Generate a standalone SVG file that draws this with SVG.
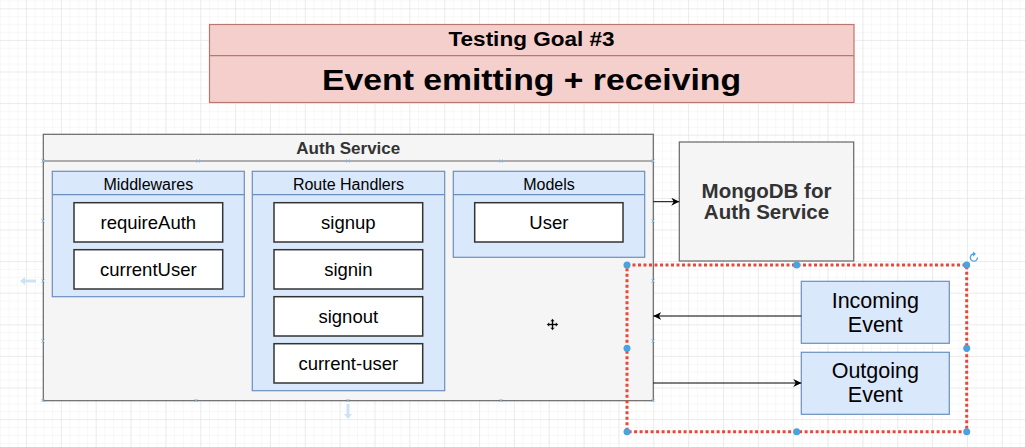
<svg xmlns="http://www.w3.org/2000/svg" width="1025" height="447" viewBox="0 0 1025 447">
<defs>
<pattern id="minor" x="26" y="8.3" width="8.7125" height="7.9" patternUnits="userSpaceOnUse">
<path d="M0 0V7.9M0 0H8.7125" fill="none" stroke="#f1f1f1" stroke-width="1"/>
</pattern>
<pattern id="major" x="26" y="8.3" width="34.85" height="31.6" patternUnits="userSpaceOnUse">
<path d="M0 0V31.6M0 0H34.85" fill="none" stroke="#e0e0e0" stroke-width="1"/>
</pattern>
<marker id="arr" viewBox="0 0 10 10" refX="10" refY="5" markerWidth="8" markerHeight="8" markerUnits="userSpaceOnUse" orient="auto">
<path d="M0 0L10 5L0 10L3 5Z" fill="#000"/>
</marker>
<style>
.t{font-family:"Liberation Sans",Arial,sans-serif;text-anchor:middle;fill:#000}
.b{font-weight:bold}
.grey{fill:#f5f5f5;stroke:#666;stroke-width:1.2}
.blue{fill:#dae8fc;stroke:#6c8ebf;stroke-width:1.2}
.white{fill:#fff;stroke:#333;stroke-width:1.5}
.hdr{font-size:16px}
.item{font-size:18.5px}
.conn{fill:none;stroke:#000;stroke-width:1}
.h{fill:#4aa3df}
.xm{stroke:#7fb8e0;stroke-width:1}
</style>
</defs>
<rect width="1025" height="447" fill="#fff"/>
<rect width="1025" height="447" fill="url(#minor)"/>
<rect width="1025" height="447" fill="url(#major)"/>

<g id="title">
<rect x="209.5" y="24.5" width="644.5" height="78" fill="#f5cfcb" stroke="#b9776f" stroke-width="1.2"/>
<line x1="209.5" y1="55.7" x2="854" y2="55.7" stroke="#b9776f" stroke-width="1.2"/>
<text class="t b" x="531.5" y="46" font-size="20" textLength="166" lengthAdjust="spacingAndGlyphs">Testing Goal #3</text>
<text class="t b" x="531.5" y="90" font-size="29.5" textLength="419" lengthAdjust="spacingAndGlyphs">Event emitting + receiving</text>
</g>

<g id="auth-service">
<rect class="grey" x="43.3" y="134.3" width="610" height="266.4"/>
<line x1="43.3" y1="161" x2="653.3" y2="161" stroke="#666" stroke-width="1.2"/>
<text class="t b" x="348.3" y="154.3" font-size="17" style="fill:#333">Auth Service</text>
</g>

<g id="middlewares">
<rect class="blue" x="52.3" y="171.3" width="192" height="125.4"/>
<line x1="52.3" y1="194.7" x2="244.3" y2="194.7" stroke="#6c8ebf" stroke-width="1.2"/>
<text class="t hdr" x="148.3" y="190">Middlewares</text>
</g>
<g id="requireAuth">
<rect class="white" x="74" y="202.7" width="148.7" height="39.3"/>
<text class="t item" x="148.3" y="229.3">requireAuth</text>
</g>
<g id="currentUser">
<rect class="white" x="74" y="249.7" width="148.7" height="39.3"/>
<text class="t item" x="148.3" y="276.3">currentUser</text>
</g>

<g id="route-handlers">
<rect class="blue" x="252.3" y="171.3" width="192.4" height="219.4"/>
<line x1="252.3" y1="194.7" x2="444.7" y2="194.7" stroke="#6c8ebf" stroke-width="1.2"/>
<text class="t hdr" x="348.5" y="190">Route Handlers</text>
</g>
<g id="signup">
<rect class="white" x="274" y="202.7" width="148.7" height="39.3"/>
<text class="t item" x="348.3" y="229.3">signup</text>
</g>
<g id="signin">
<rect class="white" x="274" y="249.7" width="148.7" height="39.3"/>
<text class="t item" x="348.3" y="276.3">signin</text>
</g>
<g id="signout">
<rect class="white" x="274" y="296.7" width="148.7" height="39.3"/>
<text class="t item" x="348.3" y="323.3">signout</text>
</g>
<g id="current-user">
<rect class="white" x="274" y="343.7" width="148.7" height="39.3"/>
<text class="t item" x="348.3" y="370.3">current-user</text>
</g>

<g id="models">
<rect class="blue" x="453.3" y="171.3" width="191.4" height="86"/>
<line x1="453.3" y1="194.7" x2="644.7" y2="194.7" stroke="#6c8ebf" stroke-width="1.2"/>
<text class="t hdr" x="549" y="190">Models</text>
</g>
<g id="user">
<rect class="white" x="474.7" y="202.7" width="148.3" height="39.3"/>
<text class="t item" x="548.8" y="229.3">User</text>
</g>

<g id="mongodb">
<rect class="grey" x="679.3" y="142" width="174.4" height="119"/>
<text class="t b" x="766.5" y="198.3" font-size="20.5" style="fill:#333">MongoDB for</text>
<text class="t b" x="766.5" y="219.3" font-size="20.5" style="fill:#333">Auth Service</text>
</g>

<g id="incoming-event">
<rect class="blue" x="801.3" y="281.3" width="148" height="62"/>
<text class="t" x="875.3" y="308.3" font-size="21.5">Incoming</text>
<text class="t" x="875.3" y="331.7" font-size="21.5">Event</text>
</g>
<g id="outgoing-event">
<rect class="blue" x="801.3" y="352.3" width="148" height="62"/>
<text class="t" x="875.3" y="378.3" font-size="21.5">Outgoing</text>
<text class="t" x="875.3" y="401.7" font-size="21.5">Event</text>
</g>

<g id="connectors">
<line class="conn" x1="653.3" y1="201.7" x2="679.3" y2="201.7" marker-end="url(#arr)"/>
<line class="conn" x1="801.3" y1="316" x2="653.3" y2="316" marker-end="url(#arr)" stroke="#333"/>
<line class="conn" x1="653.3" y1="383" x2="801.3" y2="383" marker-end="url(#arr)" stroke="#333"/>
</g>

<g id="selection">
<rect x="627" y="265" width="339.7" height="166.7" fill="none" stroke="#e8473a" stroke-width="3" stroke-dasharray="3 2.5"/>
<circle class="h" cx="627" cy="265" r="3.5"/>
<circle class="h" cx="796.7" cy="265" r="3.5"/>
<circle class="h" cx="966.7" cy="265" r="3.5"/>
<circle class="h" cx="627" cy="348.3" r="3.5"/>
<circle class="h" cx="966.7" cy="348.3" r="3.5"/>
<circle class="h" cx="627" cy="431.7" r="3.5"/>
<circle class="h" cx="796.7" cy="431.7" r="3.5"/>
<circle class="h" cx="966.7" cy="431.7" r="3.5"/>
<path d="M977.5 257.5A3.6 3.6 0 1 1 974 254" fill="none" stroke="#4aa3df" stroke-width="1.3"/>
<path d="M973 251.5L976 254L973 256.5Z" fill="#4aa3df"/>
</g>

<g id="ui-hints" fill="#cde3f5" stroke="none">
<path d="M20 281L25 277V279.5H36V282.5H25V285Z"/>
<path d="M348 419L344 414H346.5V404H349.5V414H352Z"/>
<g class="xm">
<path d="M41.5 159.5l3 3M44.5 159.5l-3 3M196.5 159.5l3 3M199.5 159.5l-3 3M346.5 159.5l3 3M349.5 159.5l-3 3M499.5 159.5l3 3M502.5 159.5l-3 3M651.5 159.5l3 3M654.5 159.5l-3 3"/>
<path d="M41.5 219.5l3 3M44.5 219.5l-3 3M41.5 279.5l3 3M44.5 279.5l-3 3M41.5 339.5l3 3M44.5 339.5l-3 3M41.5 399l3 3M44.5 399l-3 3"/>
<path d="M651.5 219.5l3 3M654.5 219.5l-3 3M651.5 279.5l3 3M654.5 279.5l-3 3M651.5 339.5l3 3M654.5 339.5l-3 3M651.5 399l3 3M654.5 399l-3 3"/>
<path d="M194.5 399l3 3M197.5 399l-3 3M346.5 399l3 3M349.5 399l-3 3M499.5 399l3 3M502.5 399l-3 3"/>
</g>
</g>

<g id="cursor">
<path d="M552.5 318.5L555 321.5H553.5V323.5H555.5V322L558.5 324.5L555.5 327V325.5H553.5V327.5H555L552.5 330.5L550 327.5H551.5V325.5H549.5V327L546.5 324.5L549.5 322V323.5H551.5V321.5H550Z" fill="#000" stroke="#fff" stroke-width="0.6"/>
</g>
</svg>
